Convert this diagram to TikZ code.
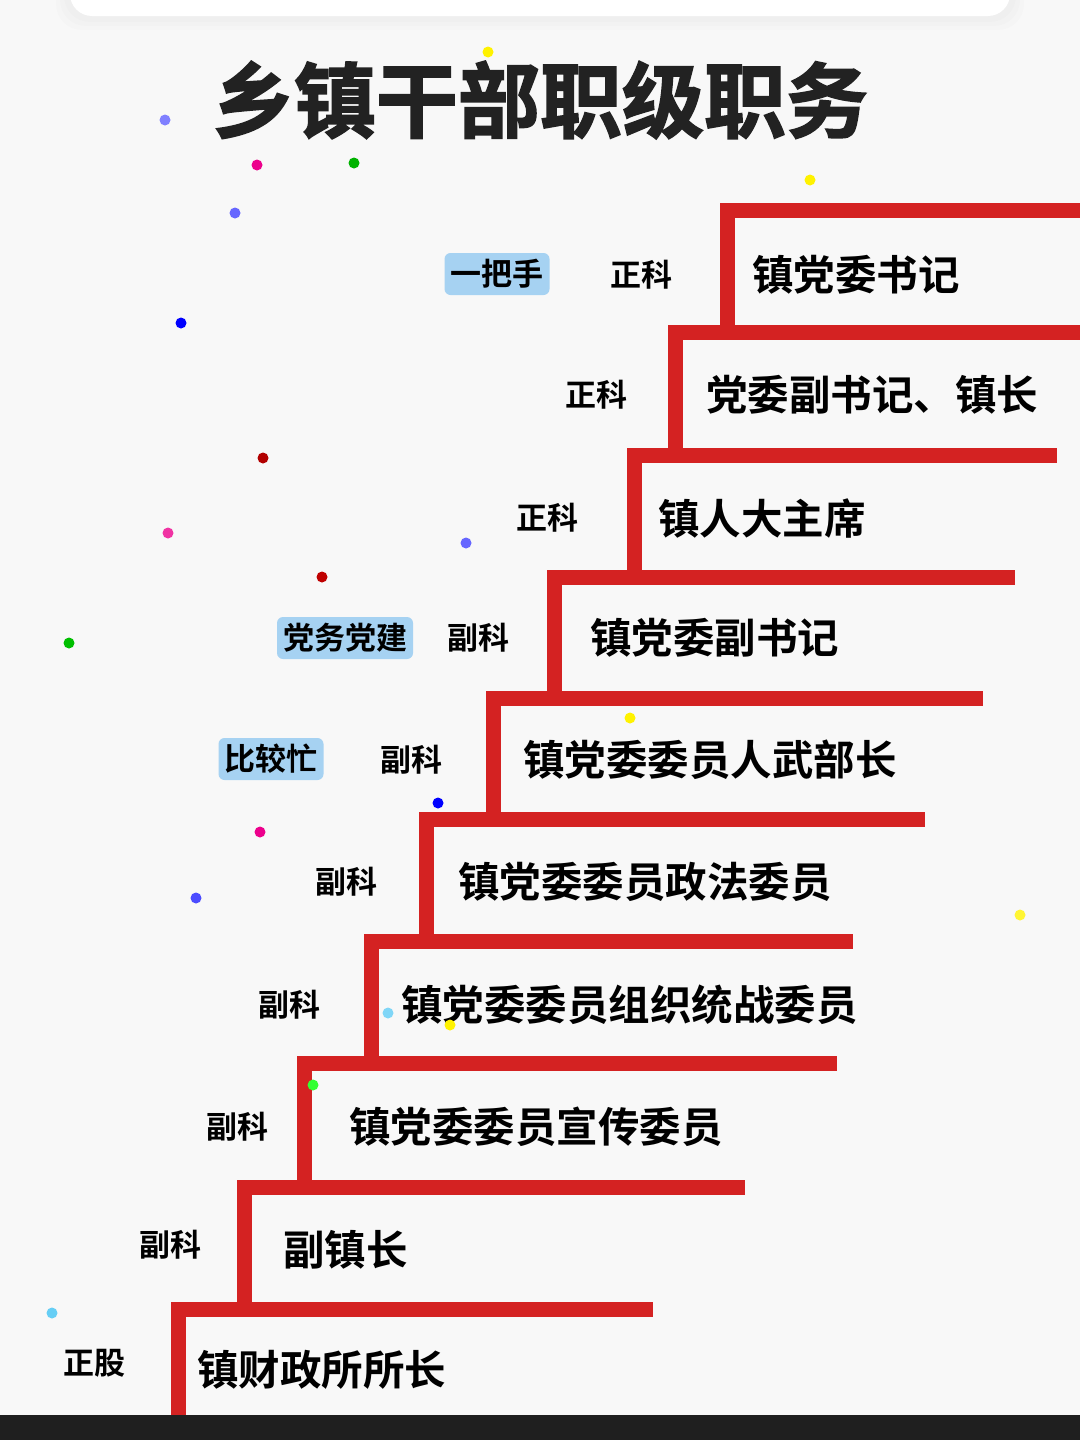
\documentclass[tikz,border=0pt]{standalone}
\usepackage{fontspec}
\usepackage{xcolor}
\usepackage{tikz}
\usetikzlibrary{positioning}
\newfontfamily\cjk[BoldFont={Noto Sans CJK SC Bold}]{Noto Sans CJK SC}
\newfontfamily\cjkheavy[BoldFont={Noto Sans CJK SC Bold}, BoldFeatures={FakeBold=2}]{Noto Sans CJK SC}
\definecolor{stepred}{HTML}{D42222}
\definecolor{tagblue}{HTML}{A6D2F2}
\definecolor{paper}{HTML}{F8F8F8}
\definecolor{ink}{HTML}{222222}

\begin{document}
\begin{tikzpicture}[
    x=1pt, y=-1pt,
    title/.style={font=\cjkheavy\bfseries\fontsize{82}{92}\selectfont, text=ink, inner sep=0pt},
    post/.style={anchor=west, font=\cjk\bfseries\fontsize{41.5}{48}\selectfont, text=black, inner sep=0pt},
    grade/.style={anchor=west, font=\cjk\bfseries\fontsize{31}{36}\selectfont, text=black, inner sep=0pt},
    tag/.style={rectangle, fill=tagblue, rounded corners=6pt, inner xsep=6pt,
                minimum height=42pt, font=\cjk\bfseries\fontsize{31}{36}\selectfont, text=black},
    stair/.style={draw=stepred, line width=15pt, line join=miter, line cap=butt},
    dot/.style={circle, inner sep=0pt, minimum size=11pt}
]
    \useasboundingbox (0,0) rectangle (1080,1440);
    % page, top card and bottom bar
    \fill[paper] (0,0) rectangle (1080,1440);
    \begin{scope}
        \clip (0,0) rectangle (1080,1440);
        \foreach \s in {14,10,6}
            \fill[black, opacity=0.012, rounded corners=26pt] (70-\s,-30) rectangle (1010+\s,16+\s);
        \fill[white, rounded corners=22pt] (70,-30) rectangle (1010,16);
    \end{scope}
    \fill[black!88] (0,1415) rectangle (1080,1440);

    % the staircase: x of riser / y of tread / end of tread / y of next tread
    \foreach \xv/\yt/\xe/\yb in {727/210/1080/332, 675/332/1080/455, 634/455/1057/577,
                                 554/577/1015/698, 493/698/983/819, 426/819/925/941,
                                 371/941/853/1063, 304/1063/837/1187, 244/1187/745/1309,
                                 178/1309/653/1415}
        \draw[stair] (\xv,\yb) -- (\xv,\yt) -- (\xe,\yt);

    \node[title] (ttl) at (540,100) {乡镇干部职级职务};

    % posts
    \node[post] (p1) at (752,275) {镇党委书记};
    \node[post] (p2) at (706,395) {党委副书记、镇长};
    \node[post] (p3) at (658,518) {镇人大主席};
    \node[post] (p4) at (590,638) {镇党委副书记};
    \node[post] (p5) at (523,760) {镇党委委员人武部长};
    \node[post] (p6) at (458,882) {镇党委委员政法委员};
    \node[post] (p7) at (401,1005) {镇党委委员组织统战委员};
    \node[post] (p8) at (349,1127) {镇党委委员宣传委员};
    \node[post] (p9) at (283,1250) {副镇长};
    \node[post] (p10) at (197,1370) {镇财政所所长};

    % grades
    \node[grade] (g1) at (610,275) {正科};
    \node[grade] (g2) at (565,395) {正科};
    \node[grade] (g3) at (516,518) {正科};
    \node[grade] (g4) at (447,638) {副科};
    \node[grade] (g5) at (380,760) {副科};
    \node[grade] (g6) at (315,882) {副科};
    \node[grade] (g7) at (258,1005) {副科};
    \node[grade] (g8) at (206,1127) {副科};
    \node[grade] (g9) at (139,1245) {副科};
    \node[grade] (g10) at (63,1363) {正股};

    % remarks
    \node[tag] (t1) at (497,274) {一把手};
    \node[tag] (t4) at (345,638) {党务党建};
    \node[tag] (t5) at (271,759) {比较忙};

    % confetti
    \foreach \cx/\cy/\cc in {257/165/magenta, 354/163/green!70!black, 181/323/blue,
                             263/458/red!70!black, 168/533/magenta!80, 322/577/red!75!black,
                             69/643/green!75!black, 438/803/blue, 260/832/magenta,
                             196/898/blue!70, 810/180/yellow, 165/120/blue!50,
                             235/213/blue!60, 466/543/blue!60, 1020/915/yellow!80,
                             52/1313/cyan!60, 488/52/yellow, 630/718/yellow,
                             388/1013/cyan!50, 450/1025/yellow, 313/1085/green!80}
        \node[dot, fill=\cc] at (\cx,\cy) {};
\end{tikzpicture}
\end{document}
